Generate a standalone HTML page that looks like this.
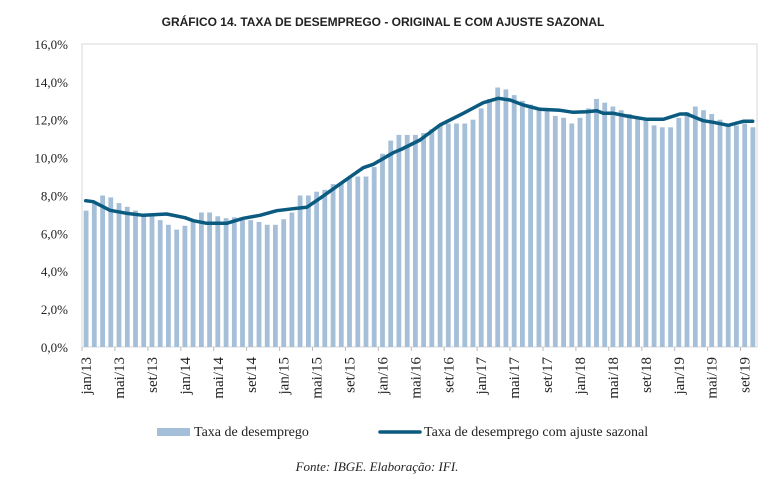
<!DOCTYPE html>
<html><head><meta charset="utf-8"><style>
html,body{margin:0;padding:0;background:#fff;}
svg{display:block;}
</style></head><body>
<svg width="765" height="486" xmlns="http://www.w3.org/2000/svg">
<text x="383" y="26" text-anchor="middle" font-family="Liberation Sans, sans-serif" font-weight="bold" font-size="12" fill="#222">GRÁFICO 14. TAXA DE DESEMPREGO - ORIGINAL E COM AJUSTE SAZONAL</text>
<rect x="82" y="44" width="675" height="303" fill="none" stroke="#d9d9d9" stroke-width="1"/>
<g id="bars" fill="#a5bfd8"></g>
<g font-family="Liberation Serif, serif" font-size="13" fill="#222" text-anchor="end" id="yl"></g>
<g id="xl" font-family="Liberation Serif, serif" font-size="15" fill="#222"></g>
<polyline id="ln" fill="none" stroke="#0b5a80" stroke-width="3.5" stroke-linejoin="round" stroke-linecap="round" points="85.7,200.7 93.3,201.7 110,210.3 126.7,213.3 143.3,215.3 166.7,214 185,217.7 193.3,220.7 206.7,223.3 226.7,223.3 243.3,218.3 260,215.3 276.7,210.7 293.3,208.7 306.7,207.3 320,198.3 343.3,181.7 363.3,167.7 373.3,164.3 393.3,152.7 402,149 410,145 420,140 440,125 463.3,113.3 483.3,102.7 498.3,98.3 510,100 523.3,105 540,109.3 560,110.3 573.3,112.3 586.7,111.7 596.7,110.7 603.3,113.3 613.3,113.3 626.7,116 646.7,119.3 663.3,119.3 680,114 686.7,114 703.3,120.7 713.3,122.3 728.3,125.3 743.3,121.3 752.7,121.3"/>
<rect x="157" y="428" width="33" height="8" fill="#a5bfd8"/>
<text x="194" y="436" font-family="Liberation Serif, serif" font-size="14" fill="#222">Taxa de desemprego</text>
<line x1="380" y1="432" x2="420" y2="432" stroke="#0b5a80" stroke-width="3.5" stroke-linecap="round"/>
<text x="424" y="436" font-family="Liberation Serif, serif" font-size="14" fill="#222">Taxa de desemprego com ajuste sazonal</text>
<text x="377" y="471" text-anchor="middle" font-family="Liberation Serif, serif" font-style="italic" font-size="13" fill="#222">Fonte: IBGE. Elaboração: IFI.</text>
</svg>
<script>
var v=[7.2,7.6,8.0,7.9,7.6,7.4,7.2,7.0,7.0,6.7,6.45,6.2,6.4,6.7,7.1,7.1,6.9,6.8,6.85,6.7,6.7,6.6,6.45,6.45,6.75,7.1,8.0,8.0,8.2,8.3,8.6,8.7,8.9,9.0,9.0,9.5,10.2,10.9,11.2,11.2,11.2,11.3,11.5,11.7,11.8,11.8,11.8,12.0,12.6,13.1,13.7,13.6,13.3,13.0,12.8,12.6,12.5,12.2,12.1,11.8,12.1,12.6,13.1,12.9,12.7,12.5,12.3,12.1,12.0,11.7,11.6,11.6,12.1,12.4,12.7,12.5,12.3,12.0,11.8,11.7,11.8,11.6];
var b=document.getElementById("bars"),s="";
var step=675/82;
for(var i=0;i<v.length;i++){var cx=82+step*(i+0.5),h=v[i]*18.94;s+='<rect x="'+(cx-2.4).toFixed(1)+'" y="'+(347-h).toFixed(1)+'" width="4.8" height="'+h.toFixed(1)+'"/>';}
b.innerHTML=s;
var yl="";for(var k=0;k<=8;k++){var y=347-k*2*18.94;yl+='<text x="68" y="'+(y+5).toFixed(1)+'">'+(k*2)+',0%</text>';}
document.getElementById("yl").innerHTML=yl;
var m=["jan","mai","set"],xl="";
for(var i=0;i<82;i+=4){var lab=m[(i/4)%3]+"/"+(13+Math.floor(i/12));var cx=82+step*(i+0.5)+5;
xl+='<text transform="translate('+cx.toFixed(1)+',357) rotate(-90)" text-anchor="end">'+lab+'</text>';
var tx=82+step*i;xl+='<line x1="'+tx.toFixed(1)+'" y1="347" x2="'+tx.toFixed(1)+'" y2="351" stroke="#bbb"/>';}
document.getElementById("xl").innerHTML=xl;
</script>
</body></html>
